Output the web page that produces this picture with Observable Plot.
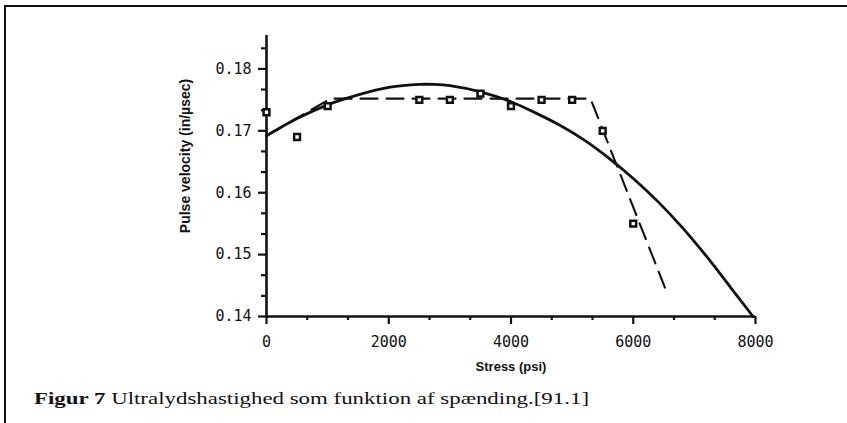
<!DOCTYPE html>
<html>
<head>
<meta charset="utf-8">
<script src="https://cdn.jsdelivr.net/npm/d3@7"></script>
<script src="https://cdn.jsdelivr.net/npm/@observablehq/plot@0.6"></script>
<style>
  html, body { margin: 0; padding: 0; background: #fff; }
  #wrap { position: relative; width: 847px; height: 423px; overflow: hidden; background: #fff; }
  #chart { position: absolute; left: 0; top: 0; }
  #frame { position: absolute; left: 4px; top: 5px; width: 843px; height: 418px;
           border-left: 2.5px solid #111; border-top: 2.5px solid #111; box-sizing: border-box; pointer-events: none; }
  #caption { position: absolute; left: 34px; top: 389px; font-family: "Liberation Serif", "Times New Roman", serif;
             font-size: 16px; line-height: 20px; color: #111; white-space: nowrap;
             transform: scaleX(1.43); transform-origin: 0 50%; }
  #caption b { font-weight: bold; }
</style>
</head>
<body>
<div id="wrap">
  <div id="chart"></div>
  <div id="frame"></div>
  <div id="caption"><b>Figur 7</b> Ultralydshastighed som funktion af spænding.[91.1]</div>
</div>
<script>
// Measured data points (stress in psi, pulse velocity in in/µsec)
const pointStress = [0, 500, 1000, 2500, 3000, 3500, 4000, 4500, 5000, 5500, 6000];
const pointVelocity = [0.173, 0.169, 0.174, 0.175, 0.175, 0.176, 0.174, 0.175, 0.175, 0.170, 0.155];

// Solid fitted curve
const curveStress = [0, 500, 1000, 1500, 2000, 2500, 2750, 3000, 3500, 4000, 4400, 4800, 5200, 5600, 6000, 6400, 6800, 7200, 7600, 7960];
const curveVelocity = [0.1692, 0.1720, 0.1742, 0.1758, 0.1770, 0.1775, 0.1775, 0.1773, 0.1763, 0.1747, 0.1729, 0.1709, 0.1685, 0.1656, 0.1623, 0.1586, 0.1544, 0.1497, 0.1446, 0.1400];

// Dashed piecewise line
const dashStress = [0, 1050, 5300, 6525];
const dashVelocity = [0.1692, 0.1752, 0.1752, 0.1445];

// Axis ticks
const xMajor = [0, 2000, 4000, 6000, 8000];
const xMinor = [666.67, 1333.33, 2666.67, 3333.33, 4666.67, 5333.33, 6666.67, 7333.33];
const yMajor = [0.14, 0.15, 0.16, 0.17, 0.18];
const yMinor = [0.14333, 0.14667, 0.15333, 0.15667, 0.16333, 0.16667, 0.17333, 0.17667, 0.18333];

const xLabel = "Stress (psi)";
const yLabel = "Pulse velocity (in/µsec)";

const points = pointStress.map((s, i) => ({s, v: pointVelocity[i]}));
const curve = curveStress.map((s, i) => ({s, v: curveVelocity[i]}));
const dashed = dashStress.map((s, i) => ({s, v: dashVelocity[i]}));

const mono = "DejaVu Sans Mono, monospace";
const sans = "Liberation Sans, Arial, sans-serif";

const chart = Plot.plot({
  width: 847,
  height: 382,
  marginLeft: 266,
  marginRight: 92,
  marginTop: 35,
  marginBottom: 66,
  style: {background: "transparent", color: "#111"},
  x: {domain: [0, 8000]},
  y: {domain: [0.14, 0.1854]},
  marks: [
    Plot.axisY({ticks: yMajor, tickSize: 8, tickPadding: 7, strokeWidth: 2.2,
                tickFormat: d => d.toFixed(2), fontSize: 15, fontFamily: mono, label: null}),
    Plot.axisY({ticks: yMinor, tickSize: 5, strokeWidth: 2.2, tickFormat: () => "", label: null}),
    Plot.axisX({ticks: xMajor, tickSize: 8, tickPadding: 12, strokeWidth: 2.2,
                tickFormat: d => String(d), fontSize: 15, fontFamily: mono, label: null}),
    Plot.axisX({ticks: xMinor, tickSize: 4, strokeWidth: 2.2, tickFormat: () => "", label: null}),
    Plot.ruleX([0], {strokeWidth: 2.6, stroke: "#111"}),
    Plot.ruleY([0.14], {strokeWidth: 2.6, stroke: "#111"}),
    Plot.line(dashed, {x: "s", y: "v", stroke: "#111", strokeWidth: 2.1, strokeDasharray: "17,9"}),
    Plot.line(curve, {x: "s", y: "v", stroke: "#111", strokeWidth: 2.8, curve: "catmull-rom"}),
    Plot.dot(points, {x: "s", y: "v", symbol: "square", r: 3.3, fill: "white", stroke: "#111", strokeWidth: 2.5}),
    Plot.text([xLabel], {text: d => d, frameAnchor: "bottom", lineAnchor: "middle", dy: 50, fontWeight: "bold",
                         fontSize: 13, fontFamily: sans, fill: "#111"}),
    Plot.text([yLabel], {text: d => d, frameAnchor: "left", textAnchor: "middle", lineAnchor: "middle",
                         dx: -81, dy: -20, rotate: -90,
                         fontWeight: "bold", fontSize: 14, fontFamily: sans, fill: "#111"})
  ]
});
document.getElementById("chart").appendChild(chart);
</script>
</body>
</html>
